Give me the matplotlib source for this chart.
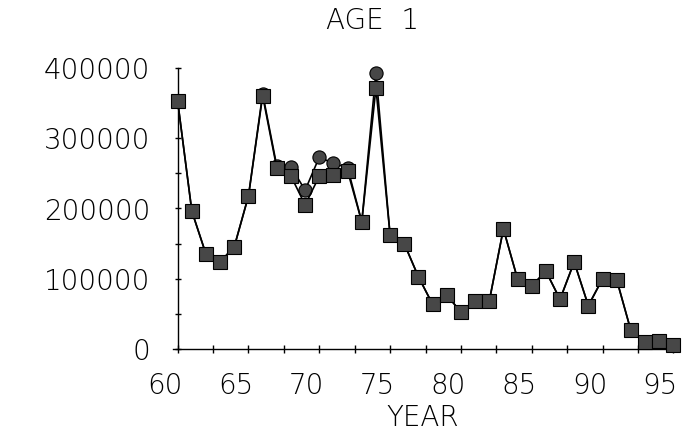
import matplotlib
matplotlib.use("Agg")
import matplotlib.pyplot as plt
from matplotlib.ticker import MultipleLocator, FixedLocator
from matplotlib.transforms import ScaledTranslation

# ---- data ----
years = list(range(60, 96))
age1_squares = [352000, 196000, 135000, 124000, 146000, 218000, 360000, 257000,
                246000, 205000, 246000, 247000, 253000, 181000, 371000, 162000,
                150000, 103000, 64000, 77000, 53000, 68000, 68000, 171000,
                100000, 90000, 111000, 71000, 124000, 62000, 100000, 99000,
                27000, 10000, 12000, 6000]
age1_circles = [352000, 196000, 135000, 124000, 146000, 218000, 363000, 260000,
                259000, 226000, 273000, 264000, 258000, 181000, 393000, 162000,
                150000, 103000, 64000, 77000, 53000, 68000, 68000, 171000,
                100000, 90000, 111000, 71000, 124000, 62000, 100000, 99000,
                27000, 10000, 12000, 6000]
x_major = [60, 65, 70, 75, 80, 85, 90, 95]
y_major = [0, 100000, 200000, 300000, 400000]
title = "AGE  1"
xlabel = "YEAR"

FS = 20
plt.rcParams['font.family'] = ['DejaVu Sans']

fig = plt.figure(figsize=(6.95, 4.36), dpi=100)
ax = fig.add_axes([173.45 / 695, 86.7 / 436, 504.1 / 695, 281.6 / 436])

mfc = '#474747'
ax.plot(years, age1_circles, color='black', lw=1.2, marker='o', ms=9.5,
        mfc=mfc, mec='black', mew=0.8, zorder=2, clip_on=False)
ax.plot(years, age1_squares, color='black', lw=1.2, marker='s', ms=10,
        mfc=mfc, mec='black', mew=0.8, zorder=3, clip_on=False)

ax.set_xlim(59.7, 95.3)
ax.set_ylim(0, 400000)

for s in ['top', 'right']:
    ax.spines[s].set_visible(False)
ax.spines['left'].set_position(('data', 60))
for s in ['left', 'bottom']:
    ax.spines[s].set_linewidth(1.0)

ax.xaxis.set_major_locator(FixedLocator(x_major))
ax.xaxis.set_minor_locator(MultipleLocator(2.5))
ax.yaxis.set_major_locator(FixedLocator(y_major))
ax.yaxis.set_minor_locator(MultipleLocator(50000))
ax.set_xticklabels([str(v) for v in x_major])
ax.set_yticklabels([str(v) for v in y_major])

ax.tick_params(axis='x', which='both', direction='inout', length=6, width=1.0)
ax.tick_params(axis='y', which='both', direction='inout', length=4.5, width=1.0)
ax.tick_params(axis='x', which='major', pad=13, labelsize=FS)
ax.tick_params(axis='y', which='major', pad=17.5, labelsize=FS)

off = ScaledTranslation(-13 / 100, 0, fig.dpi_scale_trans)
for lab in ax.get_xticklabels():
    lab.set_transform(lab.get_transform() + off)
    lab.set_fontweight('light')
for lab in ax.get_yticklabels():
    lab.set_fontweight('light')

ax.set_xlabel(xlabel, fontsize=FS, fontweight='light')
ax.xaxis.set_label_coords((423 - 173.45) / 504.1, (349.3 - 418) / 281.6)
ax.xaxis.label.set_va('center')

ax.set_title(title, x=(372 - 173.45) / 504.1, y=(349.3 - 21) / 281.6,
             va='center', fontsize=FS, fontweight='light', pad=0)

fig.savefig('out.png', dpi=100, facecolor='white')
